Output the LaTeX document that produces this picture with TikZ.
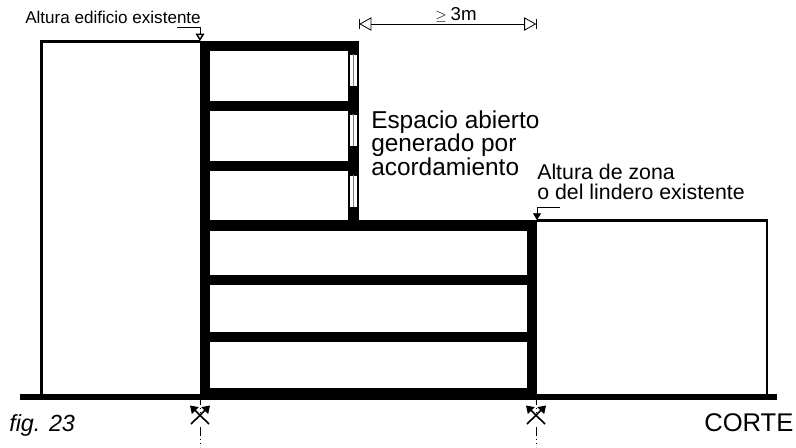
\documentclass[tikz,border=0pt]{standalone}
\usepackage{amssymb}
\usepackage{fontspec}
\setmainfont{Liberation Sans}
\usetikzlibrary{arrows.meta}
\def\SLAB#1#2#3{\fill (#1,#2) rectangle (#3,#2+10);}
\def\WINDOW#1{\draw [line width=0.3pt,fill=white] (349.5,#1) rectangle (357.5,#1+32); \draw [line width=0.3pt,gray] (353.5,#1) -- ++(0,32);}
\def\SECMARK#1#2{
  \coordinate (#1top) at (#2,396);
  \coordinate (#1mida) at (#2,414);
  \coordinate (#1midb) at (#2,427);
  \coordinate (#1bot) at (#2,447);
  \coordinate (#1a) at (#2-9,424);
  \coordinate (#1b) at (#2+10,405.5);
  \coordinate (#1c) at (#2+9,424);
  \coordinate (#1d) at (#2-10,405.5);
  \draw [axisline] (#1top) -- (#1mida);
  \draw [axisline] (#1midb) -- (#1bot);
  \draw [cutline] (#1a) -- (#1b);
  \draw [cutline] (#1c) -- (#1d);
}
\tikzset{
  label/.style={inner sep=0pt,anchor=west,align=left},
  bigtext/.style={label,font=\fontsize{18.3pt}{17.6pt}\selectfont},
  midtext/.style={label,font=\fontsize{16pt}{15pt}\selectfont},
  smalltext/.style={label,font=\fontsize{12.8pt}{14pt}\selectfont},
  outline/.style={line width=2pt},
  axisline/.style={line width=0.7pt,dash pattern=on 6.75pt off 2.25pt on 0.75pt off 2.25pt on 0.75pt off 2.25pt},
  cutline/.style={line width=1.2pt,-{Triangle[length=5.5pt,width=7pt]}},
  dimline/.style={line width=0.6pt,{Bar[width=7pt,line width=0.6pt].Triangle[open,length=9pt,width=10pt,line width=0.6pt]}-{Triangle[open,length=9pt,width=10pt,line width=0.6pt].Bar[width=7pt,line width=0.6pt]}},
  leader/.style={line width=0.6pt,-{Triangle[length=5pt,width=6pt]}},
  openleader/.style={line width=0.6pt,-{Triangle[open,length=5.5pt,width=6.5pt,line width=1.1pt]}}
}
\begin{document}
\begin{tikzpicture}[x=0.75pt,y=-0.75pt]
  \useasboundingbox (0,0) rectangle (796,447);
  % section marks
  \SECMARK{west}{200}
  \SECMARK{east}{536}
  % neighbours
  \draw [outline] (200,41.5) -- (41.5,41.5) -- (41.5,396);
  \draw [outline] (537,220.5) -- (767,220.5) -- (767,396);
  % walls
  \fill (199.5,40.5) rectangle (210,399);
  \fill (348,40.5) rectangle (359,225);
  \fill (527,220) rectangle (537,399);
  % floors
  \SLAB{199.5}{40.5}{359}
  \foreach \y in {100.5,161} \SLAB{199.5}{\y}{359}
  \fill (199.5,220) rectangle (537,231);
  \foreach \y in {275,332} \SLAB{199.5}{\y}{537}
  \fill (199.5,388) rectangle (537,399);
  % ground
  \fill (20,394) rectangle (777,400);
  % windows
  \foreach \y in {54,114,175} \WINDOW{\y}
  % dimension
  \coordinate (dimleft) at (358.5,24);
  \coordinate (dimright) at (537,24);
  \draw [dimline] (dimleft) -- (dimright);
  \node [midtext] (dimtext) at (435,15) {\fontsize{11pt}{12pt}\selectfont$\geq$\ \fontsize{14pt}{15pt}\selectfont 3m};
  % levels
  \coordinate (topstart) at (177,27);
  \coordinate (topend) at (200,41);
  \coordinate (zonestart) at (560,207);
  \coordinate (zoneend) at (537,220);
  \draw [openleader] (topstart) -| (topend);
  \draw [leader] (zonestart) -| (zoneend);
  % text
  \node [smalltext] (toplabel) at (25,17) {Altura edificio existente};
  \node [bigtext] (openlabel) at (371,143) {Espacio abierto\\generado por\\acordamiento};
  \node [midtext] (zonelabel) at (537,182) {Altura de zona\\o del lindero existente};
  \node [label,font=\fontsize{17.5pt}{18pt}\selectfont\itshape] (figlabel) at (9,425) {fig. 23};
  \node [label,font=\fontsize{19.2pt}{20pt}\selectfont] (cutlabel) at (704,423) {CORTE};
\end{tikzpicture}
\end{document}
